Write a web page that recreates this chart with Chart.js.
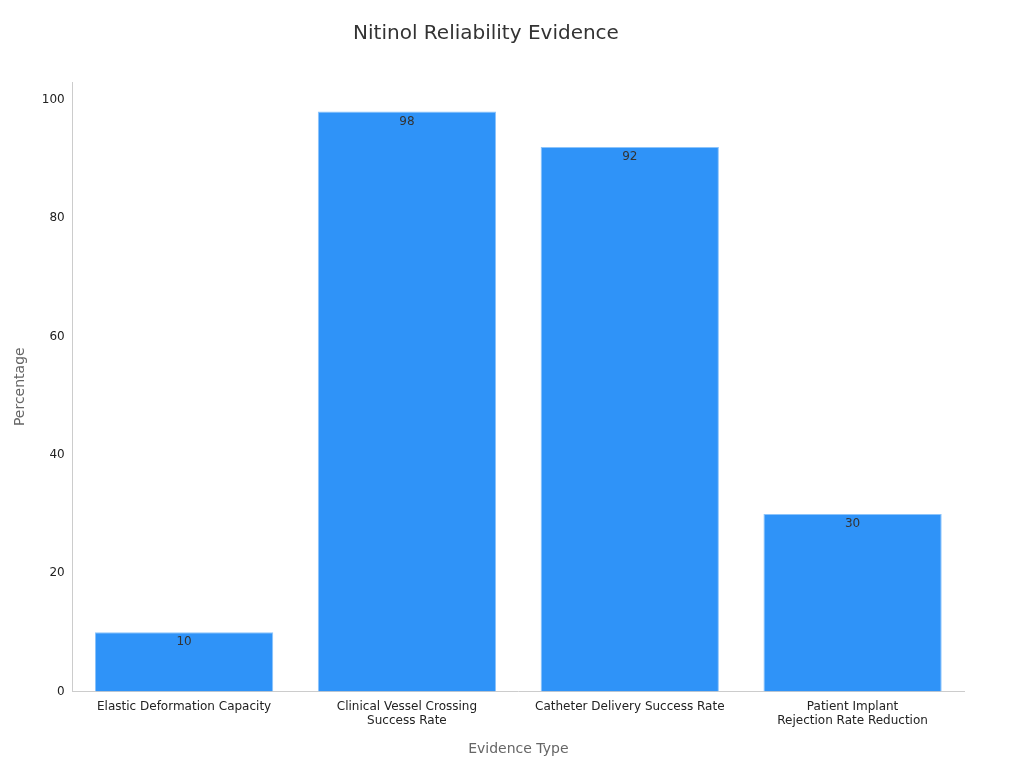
<!DOCTYPE html>
<html><head><meta charset="utf-8">
<script src="https://cdn.jsdelivr.net/npm/chart.js@4"></script>
<style>html,body{margin:0;background:#fff}#w{width:1024px;height:768px}</style>
</head><body><div id="w"><canvas id="c"></canvas></div>
<script>
const categories = [["Elastic Deformation Capacity"], ["Clinical Vessel Crossing","Success Rate"], ["Catheter Delivery Success Rate"], ["Patient Implant","Rejection Rate Reduction"]];
const values = [10, 98, 92, 30];
const yTicks = [0, 20, 40, 60, 80, 100];
const font = "'DejaVu Sans', sans-serif";
const labelPlugin = {
  id: 'lbl',
  afterDatasetsDraw(chart) {
    const ctx = chart.ctx, meta = chart.getDatasetMeta(0);
    ctx.save(); ctx.fillStyle = '#333'; ctx.font = '12px ' + font;
    ctx.textAlign = 'center'; ctx.textBaseline = 'top';
    meta.data.forEach((b, i) => ctx.fillText(values[i], b.x, b.y + 4));
    ctx.restore();
  }
};
new Chart(document.getElementById('c'), {
  type: 'bar',
  data: { labels: categories, datasets: [{ data: values, backgroundColor: '#2f93f8', borderColor: '#8cc4fb', borderWidth: 1, barPercentage: 0.8, categoryPercentage: 1 }] },
  options: {
    responsive: true, maintainAspectRatio: false, animation: false,
    layout: { padding: { left: 8, right: 60, top: 10, bottom: 6 } },
    plugins: {
      legend: { display: false }, tooltip: { enabled: false },
      title: { display: true, text: 'Nitinol Reliability Evidence', color: '#333', font: { family: font, size: 20, weight: 'normal' }, padding: { top: 12, bottom: 36 } }
    },
    scales: {
      x: { grid: { display: false, drawTicks: true, tickLength: 5, color: '#ccc' }, border: { color: '#ccc' },
           ticks: { color: '#222', font: { family: font, size: 12 }, maxRotation: 0 },
           title: { display: true, text: 'Evidence Type', color: '#666', font: { family: font, size: 14 }, padding: { top: 10 } } },
      y: { min: 0, max: 103, afterBuildTicks(s) { s.ticks = yTicks.map(v => ({ value: v })); },
           grid: { display: false, drawTicks: true, tickLength: 5 }, border: { color: '#ccc' },
           ticks: { color: '#222', font: { family: font, size: 12 } },
           title: { display: true, text: 'Percentage', color: '#666', font: { family: font, size: 14 }, padding: { bottom: 10 } } }
    }
  },
  plugins: [labelPlugin]
});
</script></body></html>
